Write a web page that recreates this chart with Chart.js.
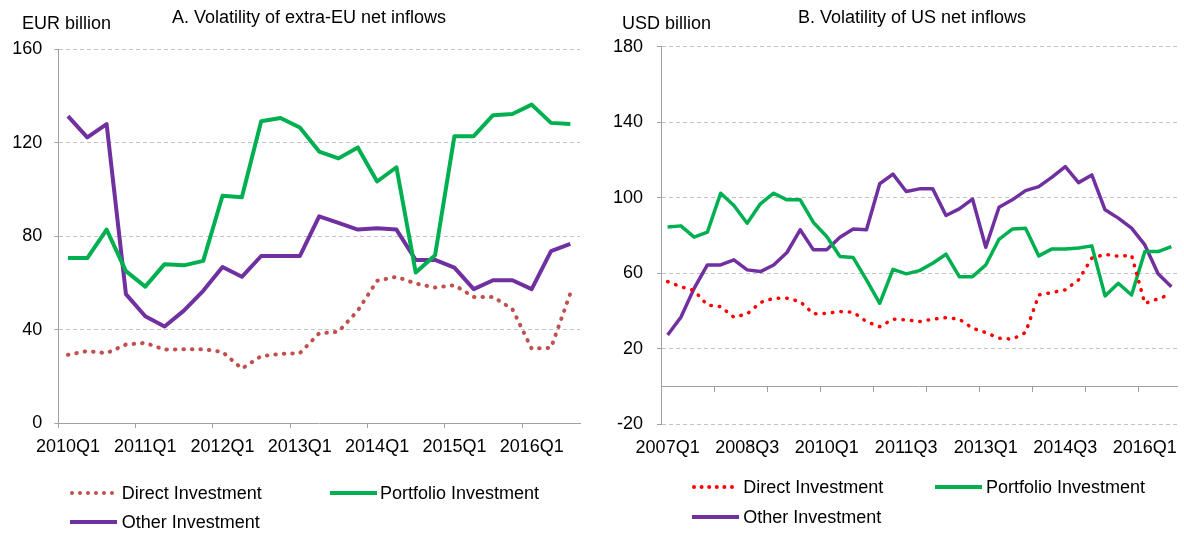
<!DOCTYPE html>
<html>
<head>
<meta charset="utf-8">
<script src="https://cdn.jsdelivr.net/npm/chart.js@4"></script>
<style>
  body { margin: 0; background: #fff; font-family: "Liberation Sans", Arial, sans-serif; }
  #wrap { position: relative; width: 1184px; height: 533px; overflow: hidden; }
  .box { position: absolute; top: 0; height: 533px; }
  .txt { position: absolute; font-size: 18px; line-height: 18px; color: #000; white-space: nowrap; }
  .sample { position: absolute; height: 0; }
</style>
</head>
<body>
<div id="wrap">
  <div class="box" style="left:0;width:592px"><canvas id="chart-eu"></canvas></div>
  <div class="box" style="left:592px;width:592px"><canvas id="chart-us"></canvas></div>
  <div class="txt" style="left:22px;top:14px">EUR billion</div>
  <div class="txt" style="left:172px;top:8px">A. Volatility of extra-EU net inflows</div>
  <div class="txt" style="left:622px;top:14px">USD billion</div>
  <div class="txt" style="left:798px;top:7.5px">B. Volatility of US net inflows</div>
  <div id="legend-eu"></div>
  <div id="legend-us"></div>
</div>
<script>
// Data - panel A (EUR billion)
const euQuarters = [
    '2010Q1', '2010Q2', '2010Q3', '2010Q4', '2011Q1', '2011Q2', '2011Q3', '2011Q4',
    '2012Q1', '2012Q2', '2012Q3', '2012Q4', '2013Q1', '2013Q2', '2013Q3', '2013Q4',
    '2014Q1', '2014Q2', '2014Q3', '2014Q4', '2015Q1', '2015Q2', '2015Q3', '2015Q4',
    '2016Q1', '2016Q2', '2016Q3'
];
const euDirect = [29.2, 30.8, 29.9, 33.6, 34.3, 31.4, 31.6, 31.6, 30.4, 23.3, 28.6, 29.6, 29.9, 38.4,
    39.1, 48.1, 60.9, 62.6, 59.7, 58.0, 59.0, 54.0, 54.0, 48.8, 31.8, 32.2, 55.5];
const euPortfolio = [70.6, 70.6, 82.8, 65.0, 58.4, 68.0, 67.5, 69.4, 97.3, 96.7, 129.2, 130.6, 126.5, 116.2,
    113.3, 118.0, 103.4, 109.5, 64.4, 71.8, 122.8, 122.8, 131.8, 132.3, 136.3, 128.5, 128.0];
const euOther = [131.4, 122.3, 128.0, 55.2, 45.7, 41.3, 48.1, 56.6, 66.8, 62.6, 71.5, 71.5, 71.5, 88.5,
    85.7, 82.8, 83.4, 82.8, 69.8, 69.8, 66.5, 57.3, 61.1, 61.1, 57.3, 73.6, 76.7];
const euTicks = { min: 0, max: 160, step: 40 };

// Data - panel B (USD billion)
const usQuarters = [
    '2007Q1', '2007Q2', '2007Q3', '2007Q4', '2008Q1', '2008Q2', '2008Q3', '2008Q4',
    '2009Q1', '2009Q2', '2009Q3', '2009Q4', '2010Q1', '2010Q2', '2010Q3', '2010Q4',
    '2011Q1', '2011Q2', '2011Q3', '2011Q4', '2012Q1', '2012Q2', '2012Q3', '2012Q4',
    '2013Q1', '2013Q2', '2013Q3', '2013Q4', '2014Q1', '2014Q2', '2014Q3', '2014Q4',
    '2015Q1', '2015Q2', '2015Q3', '2015Q4', '2016Q1', '2016Q2', '2016Q3'
];
const usDirect = [55.6, 52.9, 50.8, 43.2, 42.3, 36.7, 38.5, 44.5, 46.8, 46.8, 45.0, 38.5, 38.8, 39.7,
    39.4, 34.4, 31.7, 35.7, 35.3, 34.4, 35.7, 36.5, 35.7, 30.9, 28.6, 25.6, 25.1, 28.6, 48.5, 49.8,
    51.2, 56.5, 68.0, 70.0, 69.0, 69.5, 44.0, 46.5, 49.0];
const usPortfolio = [84.5, 85.1, 79.1, 81.8, 102.4, 95.9, 86.5, 96.8, 102.4, 98.9, 98.9, 86.9, 79.5, 68.9,
    68.3, 56.5, 44.1, 62.1, 59.7, 61.4, 65.3, 70.1, 58.2, 58.2, 64.4, 78.0, 83.4, 83.9, 69.2, 72.9,
    72.9, 73.4, 74.5, 48.0, 54.7, 48.5, 71.5, 71.5, 74.1];
const usOther = [27.3, 36.7, 52.0, 64.4, 64.4, 67.1, 61.8, 60.9, 64.4, 71.0, 83.0, 72.4, 72.4, 79.1,
    83.4, 83.0, 107.4, 112.5, 103.3, 104.7, 104.7, 90.6, 94.1, 99.3, 73.8, 95.0, 98.9, 103.8, 105.9, 110.9,
    116.5, 108.0, 112.1, 93.6, 89.2, 83.9, 75.0, 59.7, 52.9];
const usTicks = { min: -20, max: 180, step: 40 };

const seriesNames = ['Direct Investment', 'Portfolio Investment', 'Other Investment'];

const AXIS_GREY = '#a0a0a0';
const GRID_GREY = '#c4c4c4';

Chart.defaults.font.family = '"Liberation Sans", Arial, sans-serif';
Chart.defaults.font.size = 18;
Chart.defaults.color = '#000';

function lineSet(label, data, color, width, dotted) {
    return {
        label: label,
        data: data,
        borderColor: color,
        backgroundColor: color,
        borderWidth: width,
        borderDash: dotted ? [0.5, 8] : undefined,
        borderCapStyle: dotted ? 'round' : 'butt',
        borderJoinStyle: 'round',
        pointRadius: 0,
        tension: 0,
        fill: false
    };
}

// tick marks on the category axis only every 4 quarters
const tickEvery4 = ctx => (ctx.index !== undefined && ctx.index % 4 === 0) ? AXIS_GREY : 'rgba(0,0,0,0)';

// Panel A
const euChart = new Chart(document.getElementById('chart-eu'), {
    type: 'line',
    data: {
        labels: euQuarters,
        datasets: [
            lineSet(seriesNames[0], euDirect, '#c0504d', 4, true),
            lineSet(seriesNames[1], euPortfolio, '#00b050', 4, false),
            lineSet(seriesNames[2], euOther, '#7030a0', 4, false)
        ]
    },
    options: {
        responsive: true,
        maintainAspectRatio: false,
        animation: false,
        layout: { padding: { left: 0, right: 12, top: 49.3, bottom: 70 } },
        plugins: { legend: { display: false }, title: { display: false }, tooltip: { enabled: false } },
        scales: {
            x: {
                type: 'category',
                offset: true,
                afterFit: scale => { scale.height = 40; },
                grid: { offset: true, drawOnChartArea: false, tickLength: 5, color: tickEvery4, tickColor: tickEvery4 },
                border: { display: true, color: AXIS_GREY },
                ticks: {
                    autoSkip: false, minRotation: 0, maxRotation: 0, padding: 8,
                    callback: function (value, index) { return index % 4 === 0 ? this.getLabelForValue(value) : ''; }
                }
            },
            y: {
                min: euTicks.min,
                max: euTicks.max,
                afterFit: scale => { scale.width = 58.3; },
                ticks: { stepSize: euTicks.step, padding: 12 },
                grid: {
                    color: ctx => ctx.tick && ctx.tick.value === 0 ? 'rgba(0,0,0,0)' : GRID_GREY,
                    tickColor: AXIS_GREY, tickLength: 4, tickBorderDash: []
                },
                border: { display: true, color: AXIS_GREY, dash: [4, 3] }
            }
        }
    }
});

// Panel B
const usChart = new Chart(document.getElementById('chart-us'), {
    type: 'line',
    data: {
        labels: usQuarters,
        datasets: [
            lineSet(seriesNames[0], usDirect, '#ff0000', 3.5, true),
            lineSet(seriesNames[1], usPortfolio, '#00b050', 3.5, false),
            lineSet(seriesNames[2], usOther, '#7030a0', 3.5, false)
        ]
    },
    options: {
        responsive: true,
        maintainAspectRatio: false,
        animation: false,
        layout: { padding: { left: 0, right: 4, top: 46.7, bottom: 68.7 } },
        plugins: { legend: { display: false }, title: { display: false }, tooltip: { enabled: false } },
        scales: {
            x: {
                type: 'category',
                offset: true,
                afterFit: scale => { scale.height = 40; },
                grid: { display: false, drawTicks: false },
                border: { display: false },
                ticks: {
                    autoSkip: false, minRotation: 0, maxRotation: 0, padding: 12.6,
                    callback: function (value, index) { return index % 6 === 0 ? this.getLabelForValue(value) : ''; }
                }
            },
            // zero line with quarter tick marks
            x2: {
                type: 'category',
                position: { y: 0 },
                offset: true,
                grid: { offset: true, drawOnChartArea: false, tickLength: 5, color: tickEvery4, tickColor: tickEvery4 },
                border: { display: true, color: AXIS_GREY },
                ticks: { display: false, autoSkip: false, maxRotation: 0 }
            },
            y: {
                min: usTicks.min,
                max: usTicks.max,
                afterFit: scale => { scale.width = 69; },
                ticks: { stepSize: usTicks.step, padding: 14 },
                grid: { color: GRID_GREY, tickColor: AXIS_GREY, tickLength: 4, tickBorderDash: [] },
                border: { display: true, color: AXIS_GREY, dash: [4, 3] }
            }
        }
    }
});

// HTML legends built from the datasets
function buildLegend(el, chart, spots) {
    el.innerHTML = chart.data.datasets.map((ds, i) => {
        const s = spots[i];
        const style = ds.borderDash ? 'dotted' : 'solid';
        return `<span class="sample" style="left:${s.x}px;top:${s.y - 2}px;width:${s.w}px;border-top:4px ${style} ${ds.borderColor}"></span>` +
            `<span class="txt" style="left:${s.tx}px;top:${s.y - 9}px">${ds.label}</span>`;
    }).join('');
}

buildLegend(document.getElementById('legend-eu'), euChart, [
    { x: 70, w: 44, y: 493.3, tx: 121.7 },
    { x: 330, w: 47, y: 492.7, tx: 380 },
    { x: 70, w: 47, y: 521.7, tx: 121.7 }
]);
buildLegend(document.getElementById('legend-us'), usChart, [
    { x: 691.7, w: 42, y: 487.3, tx: 743.3 },
    { x: 935, w: 47, y: 487.3, tx: 986 },
    { x: 691.7, w: 47, y: 516.7, tx: 743.3 }
]);
</script>
</body>
</html>
